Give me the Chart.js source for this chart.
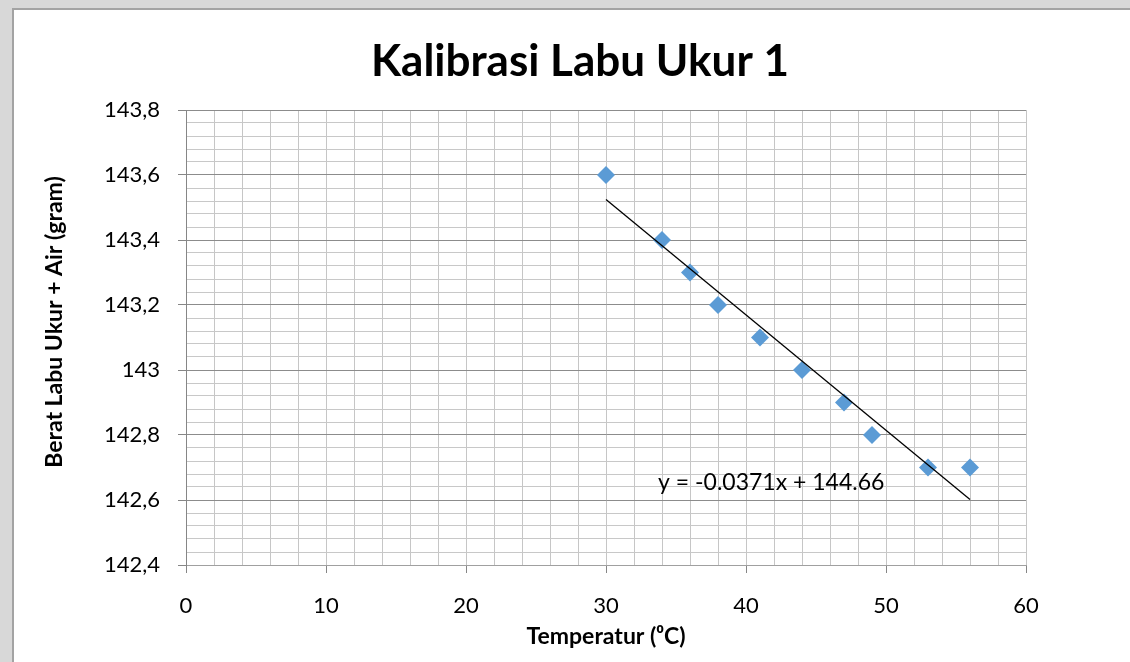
<!DOCTYPE html>
<html>
<head>
<meta charset="utf-8">
<script src="https://cdn.jsdelivr.net/npm/chart.js@4.4.1/dist/chart.umd.min.js"></script>
<style>
html, body { margin: 0; padding: 0; width: 1130px; height: 662px; overflow: hidden; background: #d8d8d8; }
#frame { position: absolute; left: 12px; top: 8px; width: 1140px; height: 660px; background: #fff;
         border-left: 2px solid #a3a3a3; border-top: 2px solid #a3a3a3; }
canvas { display: block; }
</style>
</head>
<body>
<div id="frame"><canvas id="chart" width="1132" height="652"></canvas></div>
<script>
// data
const temperatur = [30, 34, 36, 38, 41, 44, 47, 49, 53, 56];
const berat = [143.6, 143.4, 143.3, 143.2, 143.1, 143.0, 142.9, 142.8, 142.7, 142.7];
const judul = 'Kalibrasi Labu Ukur 1';
const judulY = 'Berat Labu Ukur + Air (gram)';
const persamaan = 'y = -0.0371x + 144.66';
const posisiPersamaan = { x: 41.8, y: 142.655 }; // letak label persamaan (satuan data)
const sumbuX = { min: 0, max: 60, langkah: 2, utama: 10 };
const sumbuY = { min: 142.4, max: 143.8, langkah: 0.04, utama: 0.2 };

// garis tren: regresi linear kuadrat terkecil dari data
function regresi(xs, ys) {
    const n = xs.length;
    const mx = xs.reduce((a, b) => a + b, 0) / n;
    const my = ys.reduce((a, b) => a + b, 0) / n;
    let sxy = 0, sxx = 0;
    for (let i = 0; i < n; i++) {
        sxy += (xs[i] - mx) * (ys[i] - my);
        sxx += (xs[i] - mx) * (xs[i] - mx);
    }
    const m = sxy / sxx;
    return { m: m, b: my - m * mx };
}
const fit = regresi(temperatur, berat);
const xAwal = Math.min(...temperatur);
const xAkhir = Math.max(...temperatur);
const garisTren = [
    { x: xAwal, y: fit.m * xAwal + fit.b },
    { x: xAkhir, y: fit.m * xAkhir + fit.b }
];

const isUtamaY = v => Math.abs(v / sumbuY.utama - Math.round(v / sumbuY.utama)) < 1e-6;
const isUtamaX = v => Math.abs(v / sumbuX.utama - Math.round(v / sumbuX.utama)) < 1e-6;
const formatY = v => (Math.round(v * 10) / 10).toString().replace('.', ',');

// judul, judul sumbu Y dan label persamaan digambar sendiri
const teksTambahan = {
    id: 'teksTambahan',
    afterDatasetsDraw(chart) {
        const { ctx, scales: { x, y } } = chart;
        ctx.save();
        ctx.fillStyle = '#000';
        ctx.textAlign = 'center';
        ctx.textBaseline = 'middle';
        ctx.font = '23px Lato';
        ctx.fillText(persamaan, x.getPixelForValue(posisiPersamaan.x), y.getPixelForValue(posisiPersamaan.y));
        ctx.font = 'bold 44px Lato';
        ctx.fillText(judul, 566, 52);
        ctx.translate(41, 312);
        ctx.rotate(-Math.PI / 2);
        ctx.font = 'bold 23px Lato';
        ctx.fillText(judulY, 0, 0);
        ctx.restore();
    }
};

const ctx = document.getElementById('chart').getContext('2d');
new Chart(ctx, {
    type: 'scatter',
    data: {
        datasets: [
            {
                type: 'line',
                data: garisTren,
                borderColor: '#000',
                borderWidth: 1.3,
                pointRadius: 0,
                fill: false,
                order: 0
            },
            {
                data: temperatur.map((t, i) => ({ x: t, y: berat[i] })),
                pointStyle: 'rectRot',
                pointRadius: 9,
                pointHoverRadius: 9,
                backgroundColor: '#5b9bd5',
                borderColor: '#5b9bd5',
                borderWidth: 0,
                order: 1
            }
        ]
    },
    options: {
        responsive: false,
        animation: false,
        devicePixelRatio: 1,
        layout: { padding: { left: 0, right: 120, top: 100, bottom: 0 } },
        plugins: {
            legend: { display: false },
            tooltip: { enabled: false }
        },
        scales: {
            x: {
                type: 'linear',
                min: sumbuX.min,
                max: sumbuX.max,
                afterFit(s) { s.height = 97; },
                ticks: {
                    stepSize: sumbuX.langkah,
                    autoSkip: false,
                    maxRotation: 0,
                    padding: 20,
                    color: '#000',
                    font: { family: 'Lato', size: 22 },
                    callback: v => isUtamaX(v) ? String(v) : ''
                },
                grid: {
                    color: '#c6c6c6',
                    lineWidth: 1,
                    tickLength: 8,
                    tickColor: c => (c.tick && isUtamaX(c.tick.value)) ? '#868686' : 'rgba(0,0,0,0)'
                },
                border: { color: '#a0a0a0', width: 1 },
                title: {
                    display: true,
                    text: 'Temperatur (⁰C)',
                    color: '#000',
                    font: { family: 'Lato', size: 23, weight: 'bold' },
                    padding: { top: 0, bottom: 12 }
                }
            },
            y: {
                min: sumbuY.min,
                max: sumbuY.max,
                afterFit(s) { s.width = 172; },
                ticks: {
                    stepSize: sumbuY.langkah,
                    autoSkip: false,
                    padding: 18,
                    color: '#000',
                    font: { family: 'Lato', size: 22 },
                    callback: v => isUtamaY(v) ? formatY(v) : ''
                },
                grid: {
                    color: c => (c.tick && isUtamaY(c.tick.value)) ? '#8c8c8c' : '#c8c8c8',
                    lineWidth: 1,
                    tickLength: 8,
                    tickColor: c => (c.tick && isUtamaY(c.tick.value)) ? '#868686' : 'rgba(0,0,0,0)'
                },
                border: { color: '#868686', width: 1 }
            }
        }
    },
    plugins: [teksTambahan]
});
</script>
</body>
</html>
